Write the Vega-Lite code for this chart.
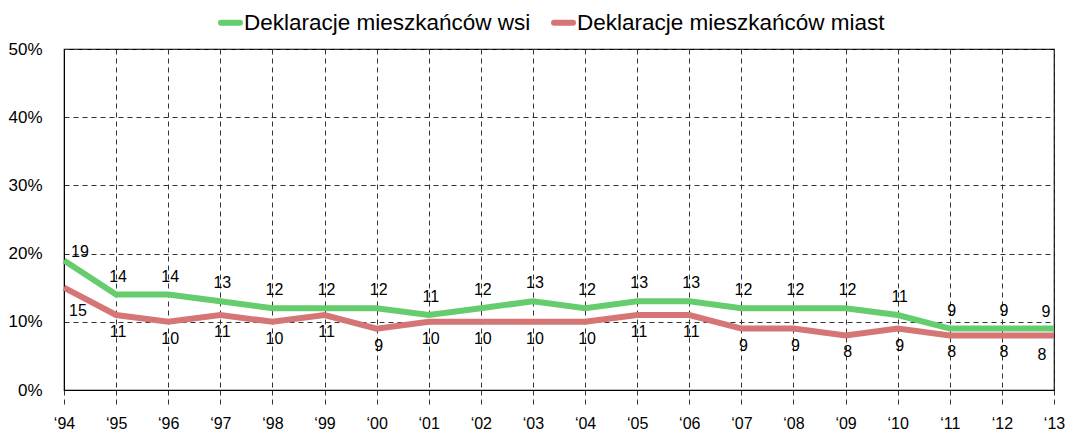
{
  "$schema": "https://vega.github.io/schema/vega-lite/v6.json",
  "width": 990,
  "height": 341,
  "autosize": {"type": "none"},
  "padding": {"left": 64, "top": 49, "right": 12, "bottom": 42},
  "background": "white",
  "config": {
    "font": "Liberation Sans",
    "view": {"stroke": "black", "strokeWidth": 1.2},
    "axis": {
      "gridColor": "#333333",
      "gridDash": [5, 4],
      "gridOpacity": 1,
      "gridWidth": 1,
      "labelFont": "Liberation Sans",
      "labelColor": "black",
      "domainColor": "black",
      "title": null
    },
    "legend": {"labelFont": "Liberation Sans"}
  },
  "data": {
    "values": [
      {"rok": "‘94", "s": "Deklaracje mieszkańców wsi", "v": 19},
      {"rok": "‘95", "s": "Deklaracje mieszkańców wsi", "v": 14},
      {"rok": "‘96", "s": "Deklaracje mieszkańców wsi", "v": 14},
      {"rok": "‘97", "s": "Deklaracje mieszkańców wsi", "v": 13},
      {"rok": "‘98", "s": "Deklaracje mieszkańców wsi", "v": 12},
      {"rok": "‘99", "s": "Deklaracje mieszkańców wsi", "v": 12},
      {"rok": "‘00", "s": "Deklaracje mieszkańców wsi", "v": 12},
      {"rok": "‘01", "s": "Deklaracje mieszkańców wsi", "v": 11},
      {"rok": "‘02", "s": "Deklaracje mieszkańców wsi", "v": 12},
      {"rok": "‘03", "s": "Deklaracje mieszkańców wsi", "v": 13},
      {"rok": "‘04", "s": "Deklaracje mieszkańców wsi", "v": 12},
      {"rok": "‘05", "s": "Deklaracje mieszkańców wsi", "v": 13},
      {"rok": "‘06", "s": "Deklaracje mieszkańców wsi", "v": 13},
      {"rok": "‘07", "s": "Deklaracje mieszkańców wsi", "v": 12},
      {"rok": "‘08", "s": "Deklaracje mieszkańców wsi", "v": 12},
      {"rok": "‘09", "s": "Deklaracje mieszkańców wsi", "v": 12},
      {"rok": "‘10", "s": "Deklaracje mieszkańców wsi", "v": 11},
      {"rok": "‘11", "s": "Deklaracje mieszkańców wsi", "v": 9},
      {"rok": "‘12", "s": "Deklaracje mieszkańców wsi", "v": 9},
      {"rok": "‘13", "s": "Deklaracje mieszkańców wsi", "v": 9},
      {"rok": "‘94", "s": "Deklaracje mieszkańców miast", "v": 15},
      {"rok": "‘95", "s": "Deklaracje mieszkańców miast", "v": 11},
      {"rok": "‘96", "s": "Deklaracje mieszkańców miast", "v": 10},
      {"rok": "‘97", "s": "Deklaracje mieszkańców miast", "v": 11},
      {"rok": "‘98", "s": "Deklaracje mieszkańców miast", "v": 10},
      {"rok": "‘99", "s": "Deklaracje mieszkańców miast", "v": 11},
      {"rok": "‘00", "s": "Deklaracje mieszkańców miast", "v": 9},
      {"rok": "‘01", "s": "Deklaracje mieszkańców miast", "v": 10},
      {"rok": "‘02", "s": "Deklaracje mieszkańców miast", "v": 10},
      {"rok": "‘03", "s": "Deklaracje mieszkańców miast", "v": 10},
      {"rok": "‘04", "s": "Deklaracje mieszkańców miast", "v": 10},
      {"rok": "‘05", "s": "Deklaracje mieszkańców miast", "v": 11},
      {"rok": "‘06", "s": "Deklaracje mieszkańców miast", "v": 11},
      {"rok": "‘07", "s": "Deklaracje mieszkańców miast", "v": 9},
      {"rok": "‘08", "s": "Deklaracje mieszkańców miast", "v": 9},
      {"rok": "‘09", "s": "Deklaracje mieszkańców miast", "v": 8},
      {"rok": "‘10", "s": "Deklaracje mieszkańców miast", "v": 9},
      {"rok": "‘11", "s": "Deklaracje mieszkańców miast", "v": 8},
      {"rok": "‘12", "s": "Deklaracje mieszkańców miast", "v": 8},
      {"rok": "‘13", "s": "Deklaracje mieszkańców miast", "v": 8}
    ]
  },
  "encoding": {
    "x": {
      "field": "rok",
      "type": "ordinal",
      "sort": null,
      "scale": {"type": "point", "padding": 0},
      "axis": {
        "labelAngle": 0,
        "labelFontSize": 16,
        "grid": true,
        "ticks": true,
        "tickDash": [5, 4],
        "tickColor": "#333333",
        "tickSize": 17,
        "labelPadding": 8,
        "domain": true
      }
    },
    "y": {
      "field": "v",
      "type": "quantitative",
      "scale": {"domain": [0, 50], "nice": false},
      "axis": {
        "values": [0, 10, 20, 30, 40, 50],
        "labelExpr": "datum.value + '%'",
        "labelFontSize": 17,
        "ticks": false,
        "domain": true,
        "labelPadding": 22,
        "grid": true
      }
    }
  },
  "layer": [
    {
      "mark": {"type": "line", "strokeWidth": 6, "strokeCap": "butt", "strokeJoin": "miter"},
      "encoding": {
        "color": {
          "field": "s",
          "type": "nominal",
          "sort": ["Deklaracje mieszkańców wsi", "Deklaracje mieszkańców miast"],
          "scale": {
            "domain": ["Deklaracje mieszkańców wsi", "Deklaracje mieszkańców miast"],
            "range": ["#66cd6e", "#d67576"]
          },
          "legend": {
            "title": null,
            "orient": "none",
            "direction": "horizontal",
            "legendX": 154,
            "legendY": -39,
            "symbolType": "stroke",
            "symbolSize": 361,
            "symbolStrokeWidth": 6,
            "labelFontSize": 22.5,
            "labelColor": "black",
            "labelOffset": 1,
            "columnPadding": 11,
            "labelLimit": 500,
            "encode": {"symbols": {"update": {"strokeCap": {"value": "round"}}}}
          }
        }
      }
    },
    {
      "transform": [{"filter": "datum.s == 'Deklaracje mieszkańców wsi' && datum.rok != '‘94' && datum.rok != '‘13'"}],
      "mark": {"type": "text", "dy": -18, "dx": 2, "fontSize": 16, "color": "black"},
      "encoding": {"text": {"field": "v", "type": "quantitative"}}
    },
    {
      "transform": [{"filter": "datum.s == 'Deklaracje mieszkańców miast' && datum.rok != '‘94' && datum.rok != '‘13'"}],
      "mark": {"type": "text", "dy": 17, "dx": 2, "fontSize": 16, "color": "black"},
      "encoding": {"text": {"field": "v", "type": "quantitative"}}
    },
    {
      "transform": [{"filter": "datum.s == 'Deklaracje mieszkańców wsi' && datum.rok == '‘94'"}],
      "mark": {"type": "text", "dy": -8, "dx": 16, "fontSize": 16, "color": "black"},
      "encoding": {"text": {"field": "v", "type": "quantitative"}}
    },
    {
      "transform": [{"filter": "datum.s == 'Deklaracje mieszkańców miast' && datum.rok == '‘94'"}],
      "mark": {"type": "text", "dy": 23, "dx": 14, "fontSize": 16, "color": "black"},
      "encoding": {"text": {"field": "v", "type": "quantitative"}}
    },
    {
      "transform": [{"filter": "datum.s == 'Deklaracje mieszkańców wsi' && datum.rok == '‘13'"}],
      "mark": {"type": "text", "dy": -17, "dx": -8, "fontSize": 16, "color": "black"},
      "encoding": {"text": {"field": "v", "type": "quantitative"}}
    },
    {
      "transform": [{"filter": "datum.s == 'Deklaracje mieszkańców miast' && datum.rok == '‘13'"}],
      "mark": {"type": "text", "dy": 20, "dx": -12, "fontSize": 16, "color": "black"},
      "encoding": {"text": {"field": "v", "type": "quantitative"}}
    }
  ]
}
